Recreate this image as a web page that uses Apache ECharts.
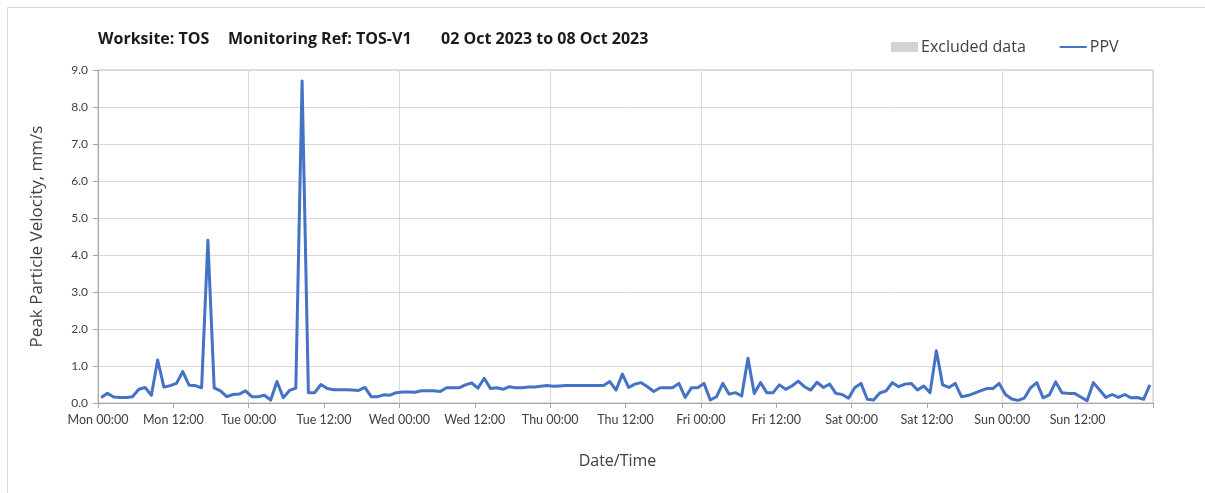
<!DOCTYPE html>
<html>
<head>
<meta charset="utf-8">
<script src="https://cdn.jsdelivr.net/npm/echarts@6/dist/echarts.min.js"></script>
<style>
  html, body { margin: 0; padding: 0; background: #ffffff; }
  #chart { width: 1205px; height: 493px; }
</style>
</head>
<body>
<div id="chart"></div>
<script>
// Week of 02 Oct 2023: hourly peak particle velocity (mm/s), one reading per hour
const dayNames = ['Mon', 'Tue', 'Wed', 'Thu', 'Fri', 'Sat', 'Sun'];
const tickTimes = ['00:00', '12:00'];

const ppvMon = [0.15, 0.26, 0.16, 0.15, 0.15, 0.17, 0.37, 0.42, 0.21, 1.16, 0.43, 0.47,
                0.53, 0.85, 0.48, 0.47, 0.41, 4.40, 0.41, 0.33, 0.17, 0.23, 0.24, 0.33];
const ppvTue = [0.17, 0.17, 0.21, 0.08, 0.58, 0.14, 0.34, 0.40, 8.70, 0.28, 0.28, 0.50,
                0.39, 0.36, 0.36, 0.36, 0.35, 0.34, 0.42, 0.17, 0.17, 0.22, 0.21, 0.28];
const ppvWed = [0.30, 0.30, 0.29, 0.33, 0.33, 0.33, 0.31, 0.41, 0.41, 0.41, 0.49, 0.54,
                0.40, 0.67, 0.39, 0.41, 0.37, 0.44, 0.41, 0.41, 0.43, 0.43, 0.45, 0.47];
const ppvThu = [0.45, 0.46, 0.47, 0.47, 0.47, 0.47, 0.47, 0.47, 0.47, 0.58, 0.35, 0.78,
                0.42, 0.51, 0.55, 0.44, 0.31, 0.41, 0.41, 0.41, 0.53, 0.15, 0.41, 0.41];
const ppvFri = [0.53, 0.08, 0.17, 0.53, 0.24, 0.28, 0.19, 1.21, 0.26, 0.55, 0.28, 0.28,
                0.49, 0.37, 0.46, 0.59, 0.44, 0.35, 0.56, 0.42, 0.51, 0.26, 0.23, 0.13];
const ppvSat = [0.41, 0.53, 0.10, 0.08, 0.27, 0.33, 0.55, 0.44, 0.51, 0.53, 0.35, 0.46,
                0.28, 1.41, 0.49, 0.42, 0.53, 0.17, 0.20, 0.26, 0.33, 0.39, 0.39, 0.53];
const ppvSun = [0.23, 0.11, 0.07, 0.13, 0.41, 0.55, 0.14, 0.22, 0.57, 0.28, 0.26, 0.26,
                0.16, 0.06, 0.55, 0.35, 0.15, 0.23, 0.15, 0.23, 0.14, 0.15, 0.10, 0.49];

const ppv = [].concat(ppvMon, ppvTue, ppvWed, ppvThu, ppvFri, ppvSat, ppvSun);
// readings are logged at the half hour; x is hours since Mon 00:00
const ppvPoints = ppv.map((v, i) => [i + 0.5, v]);

const FONT = '"Open Sans", Lato, sans-serif';
const TICK_FONT = 'Lato, "Open Sans", sans-serif';
const chart = echarts.init(document.getElementById('chart'), null, { renderer: 'canvas' });

chart.setOption({
  animation: false,
  backgroundColor: '#ffffff',
  textStyle: { fontFamily: FONT },
  graphic: [
    { type: 'rect', silent: true, shape: { x: 7.5, y: 7.5, width: 1210, height: 500 },
      style: { fill: 'none', stroke: '#d9d9d9', lineWidth: 1 } },
    { type: 'text', left: 98, top: 31, style: { text: 'Worksite: TOS', font: 'bold 16px ' + FONT, fill: '#1a1a1a' } },
    { type: 'text', left: 228, top: 31, style: { text: 'Monitoring Ref: TOS-V1', font: 'bold 16px ' + FONT, fill: '#1a1a1a' } },
    { type: 'text', left: 441, top: 31, style: { text: '02 Oct 2023 to 08 Oct 2023', font: 'bold 16px ' + FONT, fill: '#1a1a1a' } }
  ],
  legend: {
    left: 886,
    top: 34,
    itemWidth: 27,
    itemHeight: 10,
    itemGap: 33,
    textStyle: { fontSize: 16, color: '#404040', fontFamily: FONT, padding: [0, 0, 0, -2] },
    data: [
      { name: 'Excluded data', icon: 'rect' },
      { name: 'PPV', itemStyle: { opacity: 0 } }
    ]
  },
  grid: {
    left: 98, right: 52, top: 70, bottom: 90,
    show: true, borderColor: '#bfbfbf', borderWidth: 1
  },
  xAxis: [
    {
      type: 'value', min: 0, max: 168, interval: 12,
      name: 'Date/Time', nameLocation: 'middle', nameGap: 50,
      nameTextStyle: { fontSize: 16, color: '#404040', fontFamily: FONT, padding: [0, 16, 0, 0] },
      axisLine: { show: true, lineStyle: { color: '#a6a6a6' } },
      axisTick: { show: true, length: 5, lineStyle: { color: '#a6a6a6' } },
      axisLabel: {
        fontSize: 12.5, color: '#404040', margin: 10, fontFamily: TICK_FONT,
        formatter: v => (v >= 168 ? '' : dayNames[Math.floor(v / 24)] + ' ' + tickTimes[(v % 24) / 12])
      },
      splitLine: { show: false }
    },
    {
      type: 'value', min: 0, max: 168, interval: 24, position: 'top',
      axisLine: { show: false }, axisTick: { show: false }, axisLabel: { show: false },
      splitLine: { show: true, lineStyle: { color: '#d9d9d9', width: 1 } }
    }
  ],
  yAxis: {
    type: 'value', min: 0, max: 9, interval: 1,
    name: 'Peak Particle Velocity, mm/s', nameLocation: 'middle', nameGap: 52,
    nameTextStyle: { fontSize: 17, color: '#404040', fontFamily: FONT },
    axisLine: { show: true, lineStyle: { color: '#a6a6a6' } },
    axisTick: { show: true, length: 5, lineStyle: { color: '#a6a6a6' } },
    axisLabel: { fontSize: 12, color: '#404040', margin: 10, fontFamily: TICK_FONT, formatter: v => v.toFixed(1) },
    splitLine: { show: true, lineStyle: { color: '#d9d9d9', width: 1 } }
  },
  series: [
    { name: 'Excluded data', type: 'bar', data: [], itemStyle: { color: '#d3d3d3' } },
    {
      name: 'PPV', type: 'line', data: ppvPoints, xAxisIndex: 0,
      symbol: 'none', showSymbol: false,
      lineStyle: { color: '#4472C4', width: 3, join: 'round' },
      itemStyle: { color: '#4472C4' }
    }
  ]
});
</script>
</body>
</html>
